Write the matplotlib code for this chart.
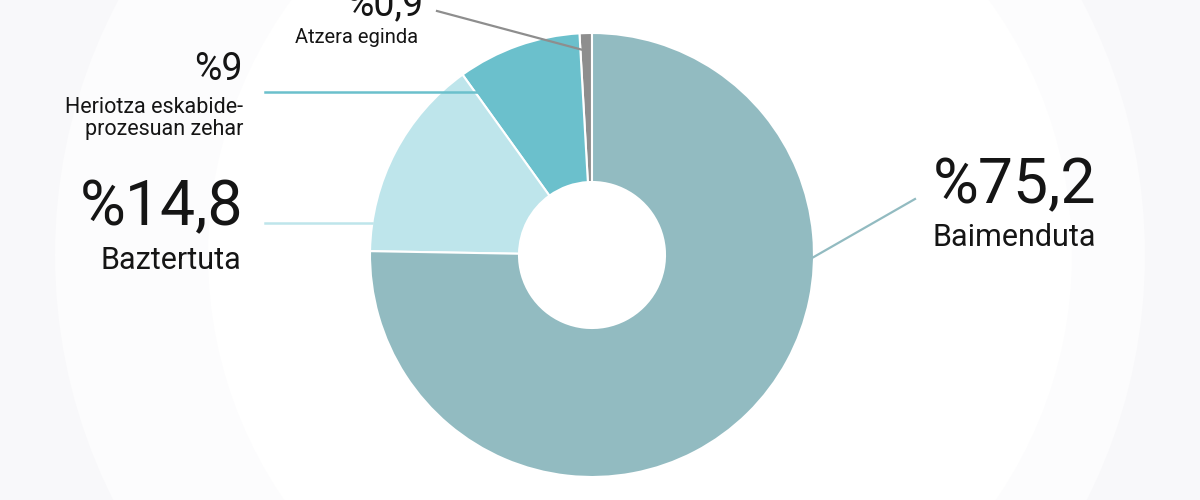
import numpy as np
import matplotlib.pyplot as plt
from matplotlib.patches import Circle

# datuak
labels = ['Atzera eginda', 'Heriotza eskabide-\nprozesuan zehar', 'Baztertuta', 'Baimenduta']
values = [0.9, 9, 14.8, 75.2]
pct_text = ['%0,9', '%9', '%14,8', '%75,2']
colors = ['#8e8e8e', '#6bc0cc', '#bee5eb', '#92bbc1']

plt.rcParams['font.family'] = ['Roboto', 'DejaVu Sans']

fig = plt.figure(figsize=(12, 5), dpi=100, facecolor='#f8f8fa')
ax = fig.add_axes([0, 0, 1, 1])

# atzeko zirkulu lausoak
ax.add_patch(Circle((600, 245), 545, facecolor='#fcfcfd', edgecolor='none', zorder=0))
ax.add_patch(Circle((640, 245), 432, facecolor='white', edgecolor='none', zorder=0))

cx, cy, R, r_in = 592, 245, 222, 73
ax.pie(values, colors=colors, startangle=90, counterclock=True,
       center=(cx, cy), radius=R,
       wedgeprops=dict(width=R - r_in, edgecolor='white', linewidth=1.5))

ax.set_xlim(0, 1200)
ax.set_ylim(0, 500)
ax.set_aspect('equal')
ax.axis('off')

# lerroak
ax.plot([437, 583], [489, 450], color=colors[0], lw=1.6, zorder=5)
ax.plot([265, 477], [408, 408], color=colors[1], lw=1.8, zorder=5)
ax.plot([265, 372], [277, 277], color=colors[2], lw=1.8, zorder=5)
ax.plot([812, 915], [242, 301], color=colors[3], lw=1.6, zorder=5)

# testuak
tc = '#151515'
ax.text(423, 485, pct_text[0], fontsize=27, ha='right', va='baseline', color=tc)
ax.text(418, 457, labels[0], fontsize=14.5, ha='right', va='baseline', color=tc)

ax.text(243, 420, pct_text[1], fontsize=27, ha='right', va='baseline', color=tc)
ax.text(243, 387, 'Heriotza eskabide-', fontsize=15.5, ha='right', va='baseline', color=tc)
ax.text(243, 365, 'prozesuan zehar', fontsize=15.5, ha='right', va='baseline', color=tc)

ax.text(243, 275, pct_text[2], fontsize=45, ha='right', va='baseline', color=tc)
ax.text(241, 231, labels[2], fontsize=22, ha='right', va='baseline', color=tc)

ax.text(1015, 297, pct_text[3], fontsize=45, ha='center', va='baseline', color=tc)
ax.text(1014, 254, labels[3], fontsize=22, ha='center', va='baseline', color=tc)

fig.savefig('out.png', dpi=100, facecolor=fig.get_facecolor())
